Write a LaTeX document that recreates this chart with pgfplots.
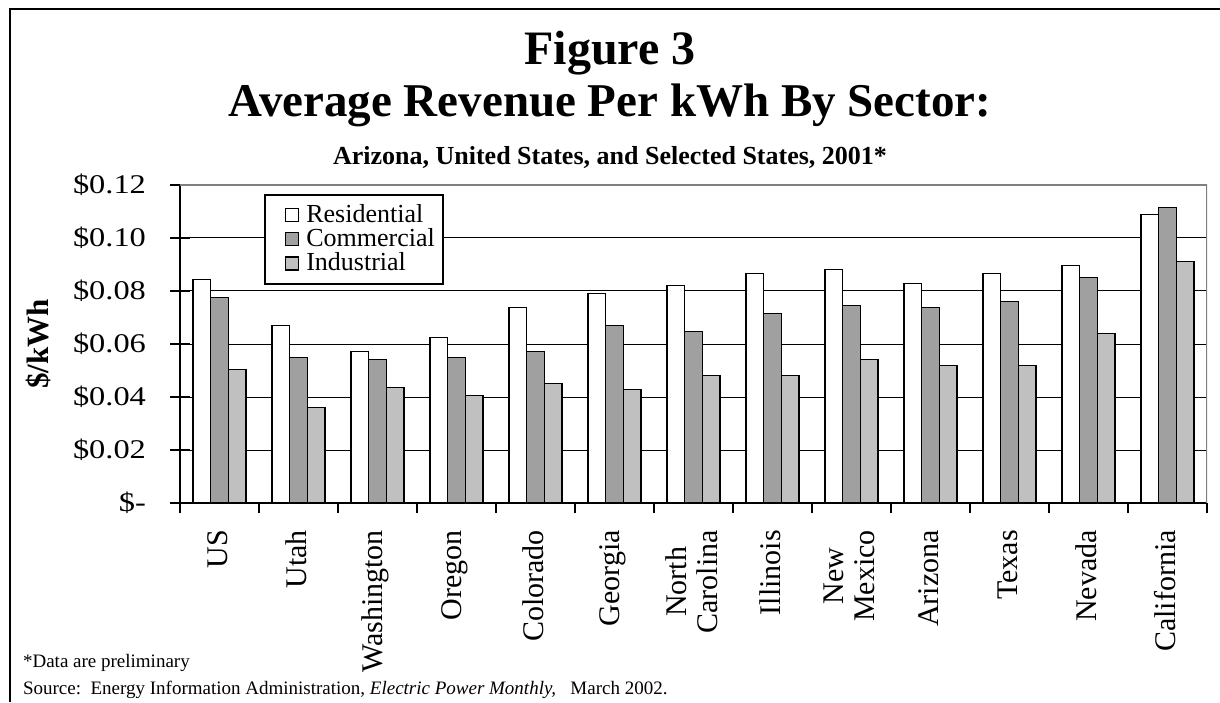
\documentclass[border=0pt]{standalone}
\usepackage{fontspec}
\setmainfont{Liberation Serif}
\newfontfamily\wideserif[FakeStretch=1.2]{Liberation Serif}
\usepackage{pgfplots}
\pgfplotsset{compat=1.18}

\definecolor{comgray}{RGB}{160,160,160}
\definecolor{indgray}{RGB}{192,192,192}
\definecolor{framegray}{RGB}{128,128,128}

\pgfplotsset{sqlegend/.style={legend image code/.code={%
  \path (0pt,0pt) (16pt,0pt);
  \draw[##1, line width=0.6pt] (8pt,-3.25pt) rectangle (14.5pt,3.25pt);}}}

% average revenue, $/kWh, 2001
\pgfplotstableread{
x  res     com     ind
0  0.0844  0.0776  0.0504
1  0.0670  0.0549  0.0360
2  0.0572  0.0542  0.0436
3  0.0625  0.0549  0.0406
4  0.0738  0.0572  0.0451
5  0.0791  0.0670  0.0428
6  0.0821  0.0648  0.0481
7  0.0867  0.0716  0.0481
8  0.0882  0.0746  0.0542
9  0.0829  0.0738  0.0519
10 0.0867  0.0761  0.0519
11 0.0897  0.0852  0.0640
12 0.1088  0.1116  0.0912
}\revtable

\begin{document}
\begin{tikzpicture}
\useasboundingbox (0,0) rectangle (610pt,351pt);
\draw[line width=1pt] (5pt,0) -- (5pt,346.5pt) -- (611pt,346.5pt);

\node[font=\bfseries\fontsize{24}{26}\selectfont] at (305pt,324.5pt) {Figure 3};
\node[font=\bfseries\fontsize{23.5}{26}\selectfont] at (305pt,298.5pt) {Average Revenue Per kWh By Sector:};
\node[font=\bfseries\fontsize{13}{15}\selectfont] at (305pt,272.5pt) {Arizona, United States, and Selected States, 2001*};

\begin{axis}[
  at={(90pt,99.5pt)}, anchor=south west,
  scale only axis, width=513.5pt, height=159pt,
  xmin=-0.5, xmax=12.5, ymin=0, ymax=0.12,
  axis lines=left,
  axis line style={-, line width=0.9pt},
  xtick={0,...,12},
  xticklabels={US,Utah,Washington,Oregon,Colorado,Georgia,{North\\Carolina},Illinois,{New\\Mexico},Arizona,Texas,Nevada,California},
  major x tick style={draw=none},
  minor xtick={-0.5,0.5,...,12.5},
  minor tick length=5pt,
  minor x tick style={black, line width=0.9pt},
  xtick align=outside,
  xticklabel style={rotate=90, anchor=east, align=center, font=\fontsize{15}{15.5}\selectfont, yshift=1pt},
  ytick={0,0.02,0.04,0.06,0.08,0.10,0.12},
  yticklabels={\$-,\$0.02,\$0.04,\$0.06,\$0.08,\$0.10,\$0.12},
  ytick align=center,
  major tick length=10pt,
  major y tick style={black, line width=0.9pt},
  yticklabel style={font=\wideserif\fontsize{13.5}{14}\selectfont, xshift=-8.5pt},
  ymajorgrids, grid style={black, line width=0.5pt},
  ylabel={\$/kWh},
  ylabel style={at={(axis description cs:-0.138,0.5)}, anchor=center, font=\bfseries\fontsize{15.5}{16}\selectfont},
  legend style={at={(0.0818,0.972)}, anchor=north west, draw=black, line width=0.9pt,
    fill=white, font=\fontsize{13}{13}\selectfont, inner xsep=2pt, inner ysep=3pt, row sep=-2.5pt},
  legend cell align=left,
]
\addplot[ybar, bar width=8.85pt, bar shift=-8.85pt, fill=white, draw=black, line width=0.7pt, sqlegend]
  table[x=x, y=res] {\revtable};
\addplot[ybar, bar width=8.85pt, bar shift=0pt, fill=comgray, draw=black, line width=0.7pt, sqlegend]
  table[x=x, y=com] {\revtable};
\addplot[ybar, bar width=8.85pt, bar shift=8.85pt, fill=indgray, draw=black, line width=0.7pt, sqlegend]
  table[x=x, y=ind] {\revtable};
\legend{Residential,Commercial,Industrial}
\draw[framegray, line width=0.9pt] (rel axis cs:0,1) -- (rel axis cs:1,1) -- (rel axis cs:1,0);
\end{axis}

\node[anchor=west, font=\fontsize{9.5}{11}\selectfont] at (8pt,19.5pt) {*Data are preliminary};
\node[anchor=west, font=\fontsize{9.5}{11}\selectfont] at (8pt,6pt) {Source:\ \ Energy Information Administration, \textit{Electric Power Monthly,}\ \ \ March 2002.};
\end{tikzpicture}
\end{document}
